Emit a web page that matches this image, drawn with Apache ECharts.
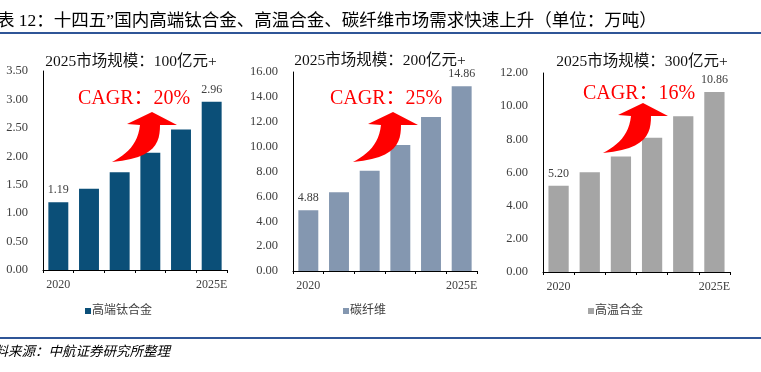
<!DOCTYPE html>
<html><head><meta charset="utf-8">
<script src="https://cdn.jsdelivr.net/npm/echarts@6/dist/echarts.min.js"></script>
<style>html,body{margin:0;padding:0;background:#fff}#c{width:761px;height:372px}</style>
</head><body><div id="c"></div>
<script>
const years = ['2020','2021','2022','2023','2024','2025E'];
const titaniumVals = [1.19, 1.43, 1.72, 2.06, 2.47, 2.96];
const carbonVals = [4.88, 6.34, 8.06, 10.13, 12.39, 14.86];
const superalloyVals = [5.20, 6.01, 6.97, 8.10, 9.39, 10.86];
const seriesNames = ['高端钛合金', '碳纤维', '高温合金'];
const panelTitles = ['2025市场规模：100亿元+', '2025市场规模：200亿元+', '2025市场规模：300亿元+'];
const cagrTexts = ['CAGR：20%', 'CAGR：25%', 'CAGR：16%'];
const yMax = [3.5, 16, 12];
const yStep = [0.5, 2, 2];

const colors = ['#0B4F78', '#8497B0', '#A5A5A5'];
const grids = [
  {left: 43, top: 71, width: 184, height: 199},
  {left: 293, top: 72, width: 184, height: 199},
  {left: 543, top: 73, width: 187, height: 199}
];
const legendPos = [{left: 80, top: 300}, {left: 338, top: 300}, {left: 583, top: 300}];
const arrowTips = [[152, 112], [393, 112], [643, 103]];
const cagrPos = [[78, 109], [330, 109], [583, 104]];
const titleCenters = [[131, 62], [380, 61], [642, 62]];

const serif = '"Liberation Serif","Times New Roman","Noto Sans CJK SC",serif';
const allVals = [titaniumVals, carbonVals, superalloyVals];

// arrow outline (annotation shape, relative to tip)
function cubic(p0, p1, p2, p3, n) {
  const out = [];
  for (let k = 1; k <= n; k++) {
    const t = k / n, u = 1 - t;
    out.push([u*u*u*p0[0] + 3*u*u*t*p1[0] + 3*u*t*t*p2[0] + t*t*t*p3[0],
              u*u*u*p0[1] + 3*u*u*t*p1[1] + 3*u*t*t*p2[1] + t*t*t*p3[1]]);
  }
  return out;
}
function arrowPoints(ox, oy) {
  let pts = [[0,0],[25,13],[8,13]];
  pts = pts.concat(cubic([8,13],[8,30],[4,46],[-40,50],12));
  pts = pts.concat(cubic([-40,50],[-25,42],[-14,32],[-12,13],12));
  pts.push([-25,12]);
  return pts.map(p => [p[0] + ox, p[1] + oy]);
}

const graphic = [
  {type: 'text', x: -3, y: 21, style: {text: '表 12：十四五”国内高端钛合金、高温合金、碳纤维市场需求快速上升（单位：万吨）', font: '17.5px ' + serif, fill: '#000', verticalAlign: 'middle'}},
  {type: 'rect', shape: {x: 0, y: 32, width: 761, height: 2}, style: {fill: '#2F5597'}},
  {type: 'rect', shape: {x: 0, y: 337, width: 761, height: 2}, style: {fill: '#2F5597'}},
  {type: 'text', x: -19, y: 352, style: {text: '资料来源：中航证券研究所整理', font: 'italic 13.5px ' + serif, fill: '#000', verticalAlign: 'middle'}}
];
for (let i = 0; i < 3; i++) {
  graphic.push({type: 'text', x: titleCenters[i][0], y: titleCenters[i][1], style: {text: panelTitles[i], font: '15.5px ' + serif, fill: '#111', align: 'center', verticalAlign: 'middle'}});
  graphic.push({type: 'polygon', shape: {points: arrowPoints(arrowTips[i][0], arrowTips[i][1])}, style: {fill: '#FF0000'}, z: 10});
  graphic.push({type: 'text', x: cagrPos[i][0], y: cagrPos[i][1], style: {text: cagrTexts[i], font: '20px ' + serif, fill: '#FF0000', verticalAlign: 'bottom'}, z: 10});
}

const option = {
  animation: false,
  backgroundColor: '#fff',
  grid: grids,
  xAxis: grids.map((g, i) => ({
    type: 'category', gridIndex: i, data: years,
    axisLine: {lineStyle: {color: '#000', width: 1}},
    axisTick: {show: true, length: 3, lineStyle: {color: '#000'}},
    axisLabel: {interval: 0, margin: 9, fontSize: 12, fontFamily: serif, color: '#404040',
      formatter: (v, idx) => (idx === 0 || idx === years.length - 1) ? v : ''}
  })),
  yAxis: grids.map((g, i) => ({
    type: 'value', gridIndex: i, min: 0, max: yMax[i], interval: yStep[i],
    axisLine: {show: true, lineStyle: {color: '#000', width: 1}},
    axisTick: {show: false}, splitLine: {show: false},
    axisLabel: {margin: 15, fontSize: 12.5, fontFamily: serif, color: '#404040', formatter: v => v.toFixed(2)}
  })),
  legend: grids.map((g, i) => ({
    data: [seriesNames[i]], left: legendPos[i].left, top: legendPos[i].top,
    icon: 'rect', itemWidth: 6, itemHeight: 6, itemGap: 2,
    textStyle: {fontSize: 12, color: '#404040', fontFamily: serif, padding: [0, 0, 0, -4]}
  })),
  series: allVals.map((vals, i) => ({
    type: 'bar', name: seriesNames[i], xAxisIndex: i, yAxisIndex: i,
    barCategoryGap: '35%',
    itemStyle: {color: colors[i]},
    data: vals.map((v, k) => ({value: v, label: {show: k === 0 || k === vals.length - 1}})),
    label: {position: 'top', distance: 6, fontSize: 12, fontFamily: serif, color: '#404040', formatter: p => p.value.toFixed(2)}
  })),
  graphic: graphic
};
const chart = echarts.init(document.getElementById('c'), null, {renderer: 'canvas'});
chart.setOption(option);
</script></body></html>
